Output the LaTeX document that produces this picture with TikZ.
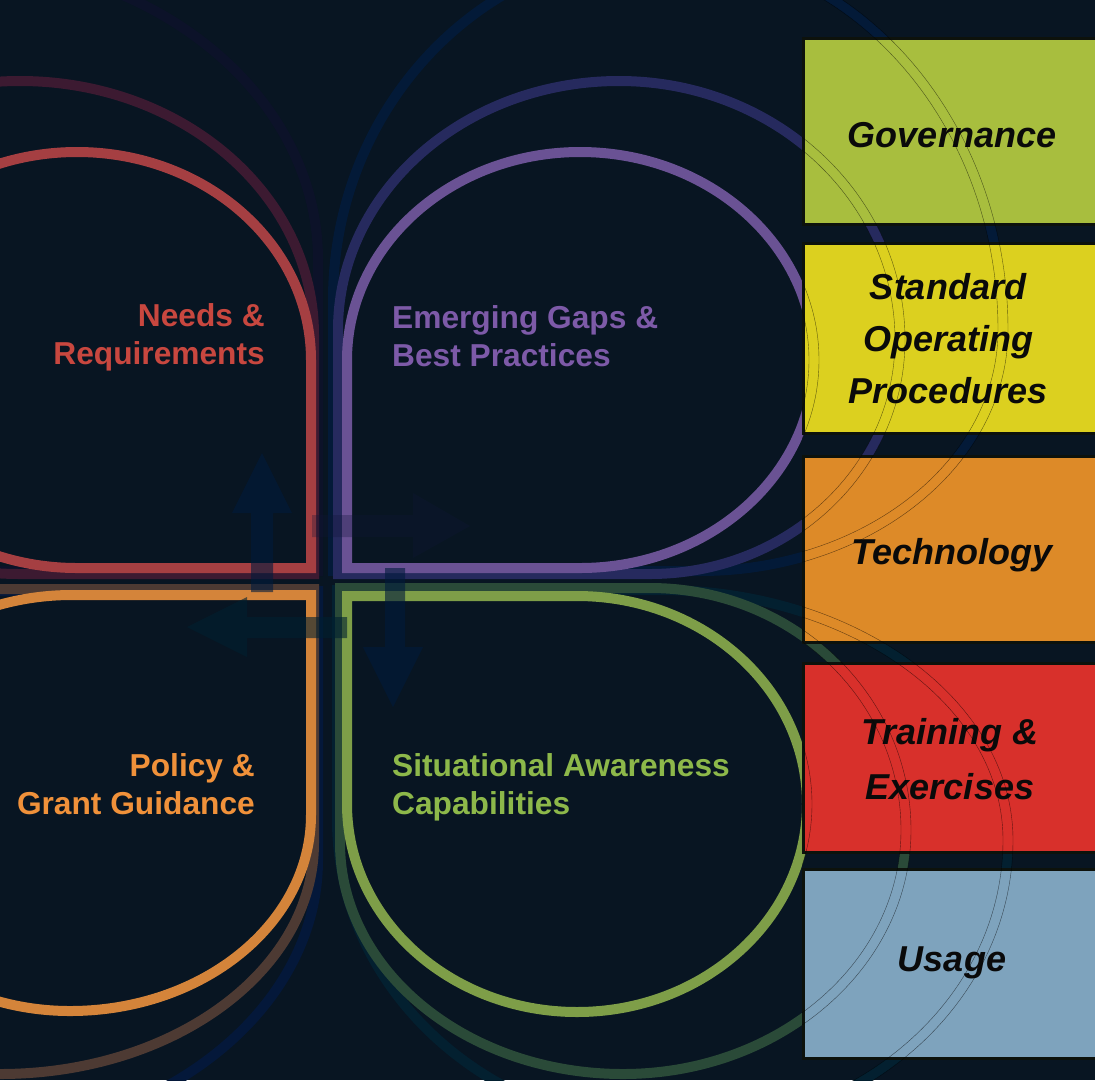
\documentclass[tikz,border=0pt]{standalone}
\usepackage{fontspec}
\setmainfont{Liberation Sans}
\definecolor{bg}{HTML}{081522}
\definecolor{redMain}{HTML}{A53F42}
\definecolor{redSh}{HTML}{3C1A31}
\definecolor{redTh}{HTML}{0C1229}
\definecolor{purMain}{HTML}{6A5294}
\definecolor{purSh}{HTML}{262A5E}
\definecolor{purTh}{HTML}{031A38}
\definecolor{grnMain}{HTML}{7E9E48}
\definecolor{grnSh}{HTML}{2A4A38}
\definecolor{grnTh}{HTML}{032030}
\definecolor{orgMain}{HTML}{D4843A}
\definecolor{orgSh}{HTML}{4D3A33}
\definecolor{orgTh}{HTML}{04183A}
\definecolor{needsC}{HTML}{C8473F}
\definecolor{emergC}{HTML}{7D5AA8}
\definecolor{policyC}{HTML}{F0913A}
\definecolor{situC}{HTML}{8DB84A}
\definecolor{govC}{HTML}{A8BE3E}
\definecolor{sopC}{HTML}{DCD01F}
\definecolor{techC}{HTML}{DD8A28}
\definecolor{trainC}{HTML}{D8302B}
\definecolor{usageC}{HTML}{7EA3BD}
\definecolor{boxedge}{HTML}{0D120C}
\definecolor{boxtext}{HTML}{0A0A0A}
\definecolor{arrUp}{HTML}{001A3C}
\definecolor{arrLeft}{HTML}{002030}
\definecolor{arrRight}{HTML}{101638}

% petal shapes: #2 L, #3 yl, #4 xt, #5 T, #6 R, #7 yr, #8 xb, #9 B
\newcommand\petalBR[9]{%
\draw[#1] ({#6},{#9}) -- ({#8},{#9})
 .. controls ({#8-0.552*((#8)-(#2))},{#9}) and ({#2},{#3+0.552*((#9)-(#3))}) .. ({#2},{#3})
 .. controls ({#2},{#3-0.552*((#3)-(#5))}) and ({#4-0.552*((#4)-(#2))},{#5}) .. ({#4},{#5})
 .. controls ({#4+0.552*((#6)-(#4))},{#5}) and ({#6},{#7-0.552*((#7)-(#5))}) .. ({#6},{#7})
 -- cycle;}
\newcommand\petalBL[9]{%
\draw[#1] ({#2},{#9}) -- ({#2},{#3})
 .. controls ({#2},{#3-0.552*((#3)-(#5))}) and ({#4-0.552*((#4)-(#2))},{#5}) .. ({#4},{#5})
 .. controls ({#4+0.552*((#6)-(#4))},{#5}) and ({#6},{#7-0.552*((#7)-(#5))}) .. ({#6},{#7})
 .. controls ({#6},{#7+0.552*((#9)-(#7))}) and ({#8+0.552*((#6)-(#8))},{#9}) .. ({#8},{#9})
 -- cycle;}
\newcommand\petalTL[9]{%
\draw[#1] ({#2},{#5}) -- ({#4},{#5})
 .. controls ({#4+0.552*((#6)-(#4))},{#5}) and ({#6},{#7-0.552*((#7)-(#5))}) .. ({#6},{#7})
 .. controls ({#6},{#7+0.552*((#9)-(#7))}) and ({#8+0.552*((#6)-(#8))},{#9}) .. ({#8},{#9})
 .. controls ({#8-0.552*((#8)-(#2))},{#9}) and ({#2},{#3+0.552*((#9)-(#3))}) .. ({#2},{#3})
 -- cycle;}
\newcommand\petalTR[9]{%
\draw[#1] ({#6},{#5}) -- ({#6},{#7})
 .. controls ({#6},{#7+0.552*((#9)-(#7))}) and ({#8+0.552*((#6)-(#8))},{#9}) .. ({#8},{#9})
 .. controls ({#8-0.552*((#8)-(#2))},{#9}) and ({#2},{#3+0.552*((#9)-(#3))}) .. ({#2},{#3})
 .. controls ({#2},{#3-0.552*((#3)-(#5))}) and ({#4-0.552*((#4)-(#2))},{#5}) .. ({#4},{#5})
 -- cycle;}

\begin{document}
\begin{tikzpicture}[x=1pt,y=-1pt,
  petalline/.style={line width=10pt},
  hair/.style={line width=0.4pt, draw=black, draw opacity=0.55},
  ptext/.style={font=\bfseries\fontsize{31.7}{38}\selectfont, inner sep=0pt},
  btext/.style={font=\bfseries\itshape\fontsize{36}{52}\selectfont, text=boxtext, align=center, inner sep=0pt},
  boxshape/.style={draw=boxedge, line width=3pt},
  arrowshape/.style={draw=none, fill opacity=0.6}
]
\useasboundingbox (0,0) rectangle (1095,1080);
\fill[bg] (0,0) rectangle (1095,1080);
\begin{scope}
\clip (0,0) rectangle (1095,1080);
% third (faintest) layers
\petalBR{draw=redTh, petalline}{-420}{260}{-50}{-40}{318}{260}{-50}{571}
\petalBL{draw=purTh, petalline}{333}{300}{667}{-50}{1003}{330}{700}{571}
\petalTL{draw=grnTh, petalline}{337}{820}{660}{590}{1008}{840}{680}{1130}
\petalTR{draw=orgTh, petalline}{-420}{860}{-50}{591}{318}{860}{-50}{1140}
% shadow layers
\petalBR{draw=redSh, petalline}{-274}{330}{20}{81}{314}{335}{20}{574}
\petalBL{draw=purSh, petalline}{338}{330}{619}{81}{900}{340}{650}{574}
\petalTL{draw=grnSh, petalline}{340}{843}{650}{588}{906}{830}{623}{1074}
\petalTR{draw=orgSh, petalline}{-310}{830}{0}{589}{314}{843}{0}{1074}
% main petals
\petalBR{draw=redMain, petalline}{-157}{360}{77}{152}{311}{360}{77}{568}
\petalBL{draw=purMain, petalline}{347}{360}{580}{152}{814}{360}{580}{568}
\petalTL{draw=grnMain, petalline}{347}{804}{577}{596}{807}{804}{577}{1012}
\petalTR{draw=orgMain, petalline}{-167}{803}{72}{595}{311}{815}{70}{1011}
% faint centre arrows
\fill[arrowshape, fill=arrUp] (251,592) -- (251,513) -- (232,513) -- (262,453) -- (292,513) -- (273,513) -- (273,592) -- cycle;
\fill[arrowshape, fill=arrLeft] (347,617) -- (247,617) -- (247,597) -- (187,627) -- (247,657) -- (247,638) -- (347,638) -- cycle;
\fill[arrowshape, fill=arrUp] (385,568) -- (385,647) -- (363,647) -- (393,707) -- (423,647) -- (405,647) -- (405,568) -- cycle;
\fill[arrowshape, fill=arrRight, fill opacity=0.3] (312,515) -- (413,515) -- (413,493) -- (470,526) -- (413,558) -- (413,537) -- (312,537) -- cycle;
% petal labels
\node[ptext, text=needsC, anchor=north east, align=right] (needs) at (265,303) {Needs \&\\Requirements};
\node[ptext, text=emergC, anchor=north west, align=left] (emerging) at (392,305) {Emerging Gaps \&\\Best Practices};
\node[ptext, text=policyC, anchor=north east, align=right] (policy) at (255,753) {Policy \&\\Grant Guidance};
\node[ptext, text=situC, anchor=north west, align=left] (situational) at (392,753) {Situational Awareness\\Capabilities};
% boxes
\fill[boxshape, fill=govC] (803,38) rectangle (1100,224);
\fill[boxshape, fill=sopC] (803,243) rectangle (1100,433);
\fill[boxshape, fill=techC] (803,456) rectangle (1100,642);
\fill[boxshape, fill=trainC] (803,663) rectangle (1100,852);
\fill[boxshape, fill=usageC] (803,869) rectangle (1100,1058);
\draw[boxshape] (803,38) rectangle (1100,224);
\draw[boxshape] (803,243) rectangle (1100,433);
\draw[boxshape] (803,456) rectangle (1100,642);
\draw[boxshape] (803,663) rectangle (1100,852);
\draw[boxshape] (803,869) rectangle (1100,1058);
\node[btext, anchor=base] (gov) at (952,147) {Governance};
\node[btext, anchor=north] (sop) at (948,273) {Standard\\Operating\\Procedures};
\node[btext, anchor=base] (tech) at (952,564) {Technology};
\node[btext, anchor=north, font=\bfseries\itshape\fontsize{36}{55}\selectfont] (train) at (950,718) {Training \&\\Exercises};
\node[btext, anchor=base] (usage) at (952,971) {Usage};
% hairline edges of the arcs running behind the boxes
\begin{scope}
\clip (802,0) rectangle (1095,1080);
\petalBL{hair}{342}{360}{580}{147}{819}{360}{580}{573}
\petalBL{hair}{352}{360}{580}{157}{809}{360}{580}{563}
\petalBL{hair}{333}{330}{619}{76}{905}{340}{650}{579}
\petalBL{hair}{343}{330}{619}{86}{895}{340}{650}{569}
\petalBL{hair}{328}{300}{667}{-55}{1008}{330}{700}{576}
\petalBL{hair}{338}{300}{667}{-45}{998}{330}{700}{566}
\petalTL{hair}{342}{804}{577}{591}{812}{804}{577}{1017}
\petalTL{hair}{352}{804}{577}{601}{802}{804}{577}{1007}
\petalTL{hair}{335}{843}{650}{583}{911}{830}{623}{1079}
\petalTL{hair}{345}{843}{650}{593}{901}{830}{623}{1069}
\petalTL{hair}{332}{820}{660}{585}{1013}{840}{680}{1135}
\petalTL{hair}{342}{820}{660}{595}{1003}{840}{680}{1125}
\end{scope}
\end{scope}
\end{tikzpicture}
\end{document}
